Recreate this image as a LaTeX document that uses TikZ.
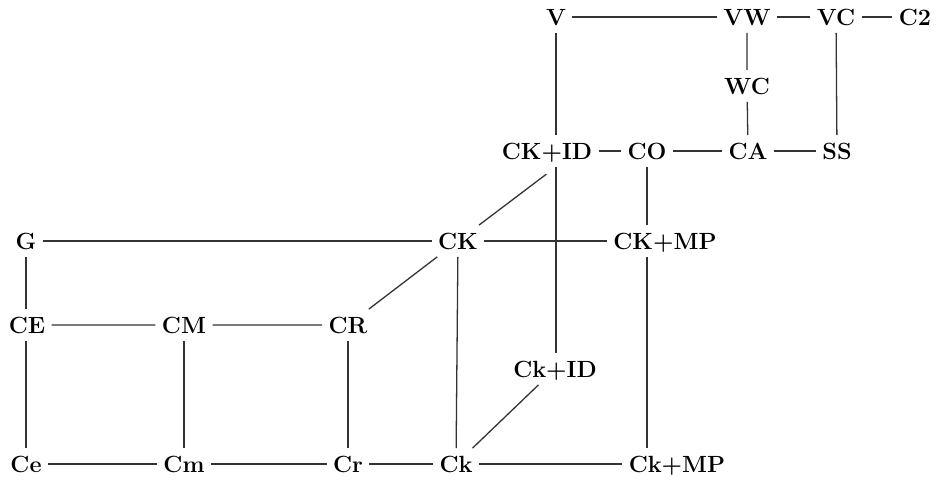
\documentclass[tikz,border=0pt]{standalone}
\begin{document}
\begin{tikzpicture}[x=0.03cm,y=-0.03cm,line width=1.1pt,
  every node/.style={font=\fontsize{20}{24}\selectfont\bfseries,
    inner xsep=5pt,inner ysep=6pt,text height=14pt,text depth=0pt},
  edge/.style={draw=black!80}]
  \useasboundingbox (0,0) rectangle (937,480);
  % upper block
  \node (V) at (556,17) {V};
  \node (VW) at (747,17) {VW};
  \node (VC) at (836,17) {VC};
  \node (C2) at (915,17) {C2};
  \node (WC) at (747,86) {WC};
  \node (CKID) at (547,151) {CK+ID};
  \node (CO) at (647,151) {CO};
  \node (CA) at (748,151) {CA};
  \node (SS) at (837,151) {SS};
  % middle row
  \node (G) at (26,241) {G};
  \node (CK) at (458,241) {CK};
  \node (CKMP) at (665,241) {CK+MP};
  \node (CE) at (27,325) {CE};
  \node (CM) at (184,325) {CM};
  \node (CR) at (348,325) {CR};
  \node (CkID) at (555,369) {Ck+ID};
  % bottom row
  \node (Ce) at (26,464) {Ce};
  \node (Cm) at (184,464) {Cm};
  \node (Cr) at (348,464) {Cr};
  \node (Ck) at (456,464) {Ck};
  \node (CkMP) at (677,464) {Ck+MP};

  \draw[edge] (V) -- (VW) -- (VC) -- (C2);
  \draw[edge] (VW) -- (WC) -- (CA);
  \draw[edge] (VC) -- (SS);
  \draw[edge] (CKID) -- (CO) -- (CA) -- (SS);
  \draw[edge] (V) -- (V |- CKID.north);
  \draw[edge] (CKID.south -| V) -- (CkID.north -| V);
  \draw[edge] (CO) -- (CO |- CKMP.north);
  \draw[edge] (CKMP.south -| CO) -- (CkMP.north -| CO);
  \draw[edge,shorten >=0.36cm] (CK) -- (CKID.south -| V);
  \draw[edge] (G) -- (CK) -- (CKMP);
  \draw[edge] (G) -- (G |- CE.north);
  \draw[edge] (CE.south -| G) -- (Ce);
  \draw[edge] (CE) -- (CM) -- (CR) -- (CK);
  \draw[edge] (CM) -- (Cm);
  \draw[edge] (CR) -- (Cr);
  \draw[edge] (CK) -- (Ck);
  \draw[edge] (CkID) -- (Ck);
  \draw[edge] (Ce) -- (Cm) -- (Cr) -- (Ck) -- (CkMP);
\end{tikzpicture}
\end{document}
